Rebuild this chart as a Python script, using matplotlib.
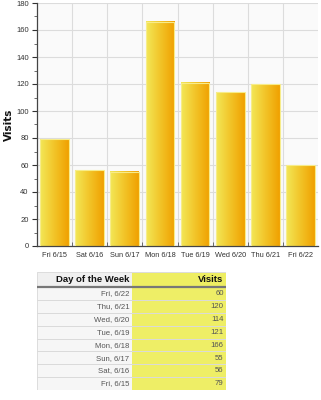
import matplotlib
matplotlib.use('Agg')
import matplotlib.pyplot as plt
import numpy as np
from matplotlib.colors import LinearSegmentedColormap
from matplotlib.patches import Rectangle
from matplotlib.ticker import MultipleLocator, FixedLocator

# ---- data ----
days = ['Fri 6/15', 'Sat 6/16', 'Sun 6/17', 'Mon 6/18',
        'Tue 6/19', 'Wed 6/20', 'Thu 6/21', 'Fri 6/22']
visits = [79, 56, 55, 166, 121, 114, 120, 60]
table_days = ['Fri, 6/22', 'Thu, 6/21', 'Wed, 6/20', 'Tue, 6/19',
              'Mon, 6/18', 'Sun, 6/17', 'Sat, 6/16', 'Fri, 6/15']
table_visits = [60, 120, 114, 121, 166, 55, 56, 79]
col_headers = ['Day of the Week', 'Visits']

W, H = 321, 400
fig = plt.figure(figsize=(W / 100, H / 100), dpi=100)
fig.patch.set_facecolor('white')

# ---- bar chart ----
ax = fig.add_axes([37 / W, 154 / H, 281 / W, 243 / H])
ax.set_facecolor('#fafafa')
x = np.arange(len(days))
bars = ax.bar(x, visits, width=0.82, color='none', edgecolor='#f7ec8a',
              linewidth=0.8, zorder=3)
cmap = LinearSegmentedColormap.from_list('g', ['#f3e858', '#f2c428', '#f0a000'])
grad = np.linspace(0, 1, 256).reshape(1, -1)
for b in bars:
    x0, y0 = b.get_xy()
    ax.imshow(grad, cmap=cmap, extent=[x0, x0 + b.get_width(), y0, y0 + b.get_height()],
              aspect='auto', zorder=2, interpolation='bilinear')

ax.set_xlim(-0.5, len(days) - 0.5)
ax.set_ylim(0, 180)
ax.yaxis.set_major_locator(MultipleLocator(20))
ax.yaxis.set_minor_locator(MultipleLocator(10))
ax.set_xticks(x)
ax.set_xticklabels(days, family='Liberation Sans')
for lab in ax.get_yticklabels():
    lab.set_family('Liberation Sans')
ax.xaxis.set_minor_locator(FixedLocator(np.arange(0.5, len(days) - 0.5, 1)))
ax.tick_params(axis='x', which='major', length=0, labelsize=5.3, colors='#333333', pad=4)
ax.tick_params(axis='x', which='minor', length=3, direction='in', color='#555555')
ax.tick_params(axis='y', which='major', length=3.5, labelsize=5.5, colors='#333333', pad=2.5)
ax.tick_params(axis='y', which='minor', length=2, color='#555555')
ax.grid(axis='y', which='major', color='#dcdcdc', linewidth=0.8, zorder=0)
ax.grid(axis='x', which='minor', color='#dcdcdc', linewidth=0.8, zorder=0)
ax.set_axisbelow(True)
for s in ['top', 'right']:
    ax.spines[s].set_visible(False)
for s in ['left', 'bottom']:
    ax.spines[s].set_color('#444444')
    ax.spines[s].set_linewidth(0.9)
ax.set_ylabel('Visits', fontsize=7.5, fontweight='bold', color='#111111')
ax.yaxis.set_label_coords((14 - 37) / 281, 0.5)

# ---- table ----
tx0, tx1, ty0, ty1 = 37, 226, 272, 390
tab = fig.add_axes([tx0 / W, (H - ty1) / H, (tx1 - tx0) / W, (ty1 - ty0) / H])
tab.set_axis_off()
n = len(table_days)
hh = 1.17  # header height in row units
tab.set_xlim(0, 2)
tab.set_ylim(n + hh, 0)
# header
tab.add_patch(Rectangle((0, 0), 1, hh, facecolor='#f0f0f0', edgecolor='none'))
tab.add_patch(Rectangle((1, 0), 1, hh, facecolor='#eeee62', edgecolor='none'))
tab.text(0.975, hh / 2, col_headers[0], ha='right', va='center', fontsize=6.8,
         fontweight='bold', family='Liberation Sans', color='#111111')
tab.text(1.975, hh / 2, col_headers[1], ha='right', va='center', fontsize=6.8,
         fontweight='bold', family='Liberation Sans', color='#111111')
for i, (d, v) in enumerate(zip(table_days, table_visits)):
    y = hh + i
    tab.add_patch(Rectangle((0, y), 1, 1, facecolor='#f6f6f6', edgecolor='none'))
    tab.add_patch(Rectangle((1, y), 1, 1, facecolor='#eeee66', edgecolor='none'))
    tab.plot([0, 2], [y + 1, y + 1], color='#dadada', linewidth=0.7)
    tab.text(0.975, y + 0.52, d, ha='right', va='center', fontsize=5.6,
             family='Liberation Sans', color='#555555')
    tab.text(1.975, y + 0.52, str(v), ha='right', va='center', fontsize=5.6,
             family='Liberation Sans', color='#555555')
tab.plot([0, 2], [hh, hh], color='#777777', linewidth=1.6)
tab.add_patch(Rectangle((0, 0), 2, n + hh, facecolor='none', edgecolor='#dddddd', linewidth=0.7))

fig.savefig('out.png', dpi=100)
